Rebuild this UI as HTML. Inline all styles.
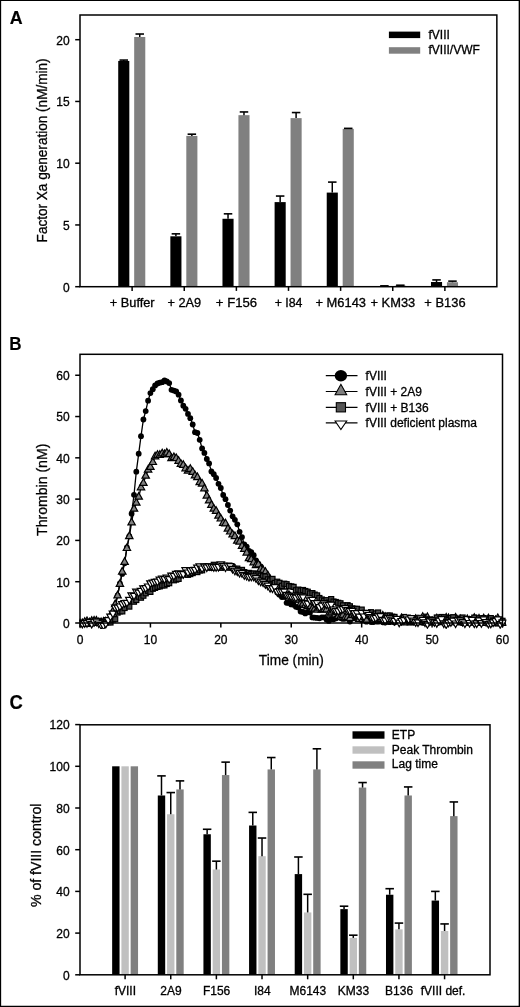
<!DOCTYPE html>
<html><head><meta charset="utf-8"><title>Figure</title>
<style>
html,body{margin:0;padding:0;background:#fff;}
body{width:520px;height:1007px;overflow:hidden;position:relative;font-family:"Liberation Sans",sans-serif;}
svg{display:block;position:absolute;left:0;top:0;will-change:transform;}
#chart{filter:grayscale(1) blur(0.35px);}
svg text{font-family:"Liberation Sans",sans-serif;fill:#000;stroke:#000;stroke-width:0.3px;}
</style></head><body>
<svg id="chart" width="520" height="1007" viewBox="0 0 520 1007">
<rect x="-5" y="-5" width="530" height="1017" fill="#fff"/>
<text x="9.8" y="24.1" font-size="18.8" text-anchor="start" font-weight="bold" textLength="12.9" lengthAdjust="spacingAndGlyphs" style="stroke-width:0.15px">A</text>
<rect x="118.22" y="60.94" width="11.10" height="225.76" fill="#000"/>
<rect x="134.18" y="36.98" width="11.10" height="249.72" fill="#808080"/>
<line x1="123.77" y1="60.94" x2="123.77" y2="60.08" stroke="#000" stroke-width="1.5"/>
<line x1="119.52" y1="60.08" x2="128.02" y2="60.08" stroke="#000" stroke-width="1.6"/>
<line x1="139.73" y1="36.98" x2="139.73" y2="34.02" stroke="#000" stroke-width="1.5"/>
<line x1="135.48" y1="34.02" x2="143.98" y2="34.02" stroke="#000" stroke-width="1.6"/>
<rect x="170.35" y="236.31" width="11.10" height="50.39" fill="#000"/>
<rect x="186.30" y="135.91" width="11.10" height="150.79" fill="#808080"/>
<line x1="175.90" y1="236.31" x2="175.90" y2="233.84" stroke="#000" stroke-width="1.5"/>
<line x1="171.65" y1="233.84" x2="180.15" y2="233.84" stroke="#000" stroke-width="1.6"/>
<line x1="191.85" y1="135.91" x2="191.85" y2="134.18" stroke="#000" stroke-width="1.5"/>
<line x1="187.60" y1="134.18" x2="196.10" y2="134.18" stroke="#000" stroke-width="1.6"/>
<rect x="222.47" y="218.77" width="11.10" height="67.93" fill="#000"/>
<rect x="238.43" y="115.16" width="11.10" height="171.54" fill="#808080"/>
<line x1="228.03" y1="218.77" x2="228.03" y2="213.83" stroke="#000" stroke-width="1.5"/>
<line x1="223.78" y1="213.83" x2="232.28" y2="213.83" stroke="#000" stroke-width="1.6"/>
<line x1="243.98" y1="115.16" x2="243.98" y2="111.95" stroke="#000" stroke-width="1.5"/>
<line x1="239.73" y1="111.95" x2="248.23" y2="111.95" stroke="#000" stroke-width="1.6"/>
<rect x="274.60" y="202.10" width="11.10" height="84.60" fill="#000"/>
<rect x="290.55" y="118.12" width="11.10" height="168.58" fill="#808080"/>
<line x1="280.15" y1="202.10" x2="280.15" y2="196.05" stroke="#000" stroke-width="1.5"/>
<line x1="275.90" y1="196.05" x2="284.40" y2="196.05" stroke="#000" stroke-width="1.6"/>
<line x1="296.10" y1="118.12" x2="296.10" y2="112.56" stroke="#000" stroke-width="1.5"/>
<line x1="291.85" y1="112.56" x2="300.35" y2="112.56" stroke="#000" stroke-width="1.6"/>
<rect x="326.73" y="192.59" width="11.10" height="94.11" fill="#000"/>
<rect x="342.68" y="128.87" width="11.10" height="157.83" fill="#808080"/>
<line x1="332.28" y1="192.59" x2="332.28" y2="182.10" stroke="#000" stroke-width="1.5"/>
<line x1="328.03" y1="182.10" x2="336.53" y2="182.10" stroke="#000" stroke-width="1.6"/>
<line x1="348.23" y1="128.87" x2="348.23" y2="128.37" stroke="#000" stroke-width="1.5"/>
<line x1="343.98" y1="128.37" x2="352.48" y2="128.37" stroke="#000" stroke-width="1.6"/>
<rect x="378.85" y="286.21" width="11.10" height="0.49" fill="#000"/>
<rect x="394.80" y="285.71" width="11.10" height="0.99" fill="#808080"/>
<line x1="384.40" y1="286.21" x2="384.40" y2="285.84" stroke="#000" stroke-width="1.5"/>
<line x1="380.15" y1="285.84" x2="388.65" y2="285.84" stroke="#000" stroke-width="1.6"/>
<line x1="400.35" y1="285.71" x2="400.35" y2="285.22" stroke="#000" stroke-width="1.5"/>
<line x1="396.10" y1="285.22" x2="404.60" y2="285.22" stroke="#000" stroke-width="1.6"/>
<rect x="430.98" y="282.01" width="11.10" height="4.69" fill="#000"/>
<rect x="446.93" y="282.25" width="11.10" height="4.45" fill="#808080"/>
<line x1="436.53" y1="282.01" x2="436.53" y2="279.91" stroke="#000" stroke-width="1.5"/>
<line x1="432.28" y1="279.91" x2="440.78" y2="279.91" stroke="#000" stroke-width="1.6"/>
<line x1="452.48" y1="282.25" x2="452.48" y2="281.14" stroke="#000" stroke-width="1.5"/>
<line x1="448.23" y1="281.14" x2="456.73" y2="281.14" stroke="#000" stroke-width="1.6"/>
<rect x="80.0" y="15.0" width="416.85" height="271.7" fill="none" stroke="#000" stroke-width="1.5"/>
<line x1="75.20" y1="286.70" x2="80.00" y2="286.70" stroke="#000" stroke-width="1.5"/>
<text x="69.6" y="291.5" font-size="12" text-anchor="end" >0</text>
<line x1="75.20" y1="224.95" x2="80.00" y2="224.95" stroke="#000" stroke-width="1.5"/>
<text x="69.6" y="229.75" font-size="12" text-anchor="end" >5</text>
<line x1="75.20" y1="163.20" x2="80.00" y2="163.20" stroke="#000" stroke-width="1.5"/>
<text x="69.6" y="168.0" font-size="12" text-anchor="end" >10</text>
<line x1="75.20" y1="101.45" x2="80.00" y2="101.45" stroke="#000" stroke-width="1.5"/>
<text x="69.6" y="106.24999999999999" font-size="12" text-anchor="end" >15</text>
<line x1="75.20" y1="39.70" x2="80.00" y2="39.70" stroke="#000" stroke-width="1.5"/>
<text x="69.6" y="44.499999999999986" font-size="12" text-anchor="end" >20</text>
<line x1="132.12" y1="286.70" x2="132.12" y2="290.90" stroke="#000" stroke-width="1.5"/>
<line x1="184.25" y1="286.70" x2="184.25" y2="290.90" stroke="#000" stroke-width="1.5"/>
<line x1="236.38" y1="286.70" x2="236.38" y2="290.90" stroke="#000" stroke-width="1.5"/>
<line x1="288.50" y1="286.70" x2="288.50" y2="290.90" stroke="#000" stroke-width="1.5"/>
<line x1="340.62" y1="286.70" x2="340.62" y2="290.90" stroke="#000" stroke-width="1.5"/>
<line x1="392.75" y1="286.70" x2="392.75" y2="290.90" stroke="#000" stroke-width="1.5"/>
<line x1="444.88" y1="286.70" x2="444.88" y2="290.90" stroke="#000" stroke-width="1.5"/>
<text x="132.22" y="306.6" font-size="12" text-anchor="middle" textLength="44.8" lengthAdjust="spacingAndGlyphs" >+ Buffer</text>
<text x="184.35" y="306.6" font-size="12" text-anchor="middle" textLength="33.7" lengthAdjust="spacingAndGlyphs" >+ 2A9</text>
<text x="236.47" y="306.6" font-size="12" text-anchor="middle" textLength="41.2" lengthAdjust="spacingAndGlyphs" >+ F156</text>
<text x="288.6" y="306.6" font-size="12" text-anchor="middle" textLength="27.8" lengthAdjust="spacingAndGlyphs" >+ I84</text>
<text x="340.73" y="306.6" font-size="12" text-anchor="middle" textLength="50.6" lengthAdjust="spacingAndGlyphs" >+ M6143</text>
<text x="392.85" y="306.6" font-size="12" text-anchor="middle" textLength="44.7" lengthAdjust="spacingAndGlyphs" >+ KM33</text>
<text x="444.98" y="306.6" font-size="12" text-anchor="middle" textLength="41.2" lengthAdjust="spacingAndGlyphs" >+ B136</text>
<text x="47.2" y="150.4" font-size="15.5" text-anchor="middle" textLength="184" lengthAdjust="spacingAndGlyphs" transform="rotate(-90 47.2 150.4)" >Factor Xa generation (nM/min)</text>
<rect x="388.90" y="31.60" width="31.30" height="6.50" fill="#000"/>
<rect x="388.90" y="47.20" width="31.30" height="6.50" fill="#808080"/>
<text x="428.5" y="38.6" font-size="12" text-anchor="start" >fVIII</text>
<text x="428.5" y="53.8" font-size="12" text-anchor="start" >fVIII/VWF</text>
<text x="9.3" y="350.2" font-size="18.2" text-anchor="start" font-weight="bold" textLength="12.3" lengthAdjust="spacingAndGlyphs" style="stroke-width:0.1px">B</text>
<clipPath id="cb"><rect x="79.5" y="354.3" width="427.0" height="274.7"/></clipPath><g clip-path="url(#cb)">
<polyline fill="none" stroke="#000" stroke-width="1.3" points="80.0,623.4 82.3,623.6 84.7,622.4 87.0,623.5 89.4,622.4 91.7,622.6 94.1,623.2 96.4,622.0 98.8,622.9 101.1,621.9 103.5,622.4 105.8,622.1 108.2,621.3 110.5,617.7 112.9,618.0 115.2,607.9 117.6,595.3 119.9,583.5 122.2,573.9 124.6,563.3 126.9,547.3 129.3,536.1 131.6,513.7 134.0,494.8 136.3,471.7 138.7,453.7 141.0,436.2 143.4,419.5 145.7,411.1 148.1,400.7 150.4,393.1 152.8,389.2 155.1,385.4 157.5,383.5 159.8,382.7 162.2,382.2 164.5,380.3 166.8,381.4 169.2,383.1 171.5,389.8 173.9,390.6 176.2,391.4 178.6,394.7 180.9,400.5 183.3,405.7 185.6,408.8 188.0,413.9 190.3,418.2 192.7,424.5 195.0,432.2 197.4,433.0 199.7,439.8 202.1,448.4 204.4,452.9 206.8,459.0 209.1,463.4 211.4,471.4 213.8,474.2 216.1,478.0 218.5,483.8 220.8,488.0 223.2,495.0 225.5,499.2 227.9,505.0 230.2,510.6 232.6,516.3 234.9,519.8 237.3,524.3 239.6,531.8 242.0,537.1 244.3,544.4 246.7,546.6 249.0,551.0 251.3,552.2 253.7,555.2 256.0,560.5 258.4,563.7 260.7,566.3 263.1,572.0 265.4,574.4 267.8,579.2 270.1,583.2 272.5,587.1 274.8,587.6 277.2,592.4 279.5,594.8 281.9,597.1 284.2,596.9 286.6,602.8 288.9,602.9 291.2,604.4 293.6,604.7 295.9,606.8 298.3,607.6 300.6,611.6 303.0,612.0 305.3,613.4 307.7,611.8 310.0,612.5 312.4,617.4 314.7,617.7 317.1,617.9 319.4,618.3 321.8,617.4 324.1,617.3 326.5,619.4 328.8,620.9 331.2,619.0 333.5,619.3 335.8,618.4 338.2,616.6 340.5,618.0 342.9,618.9 345.2,618.5 347.6,618.3 349.9,621.5 352.3,617.4 354.6,618.1 357.0,617.7 359.3,618.1 361.7,620.2 364.0,620.2 366.4,621.7 368.7,619.2 371.1,622.0 373.4,622.0 375.8,621.4 378.1,621.7 380.4,620.8 382.8,622.3 385.1,622.6 387.5,621.9 389.8,622.2 392.2,620.9 394.5,622.6 396.9,618.5 399.2,619.8 401.6,622.1 403.9,621.7 406.3,621.2 408.6,621.2 411.0,622.4 413.3,618.9 415.7,618.2 418.0,620.9 420.3,620.8 422.7,622.8 425.0,622.8 427.4,621.6 429.7,622.1 432.1,619.3 434.4,622.6 436.8,623.3 439.1,618.7 441.5,620.8 443.8,622.7 446.2,620.7 448.5,623.3 450.9,620.8 453.2,618.6 455.6,619.1 457.9,620.0 460.2,622.1 462.6,621.6 464.9,622.6 467.3,619.6 469.6,620.8 472.0,619.6 474.3,621.8 476.7,622.3 479.0,619.4 481.4,618.5 483.7,619.2 486.1,619.4 488.4,619.4 490.8,619.7 493.1,622.3 495.5,620.8 497.8,621.7 500.2,623.3 502.5,623.3"/>
<g fill="#000"><circle cx="80.0" cy="623.4" r="2.9"/><circle cx="82.3" cy="623.6" r="2.9"/><circle cx="84.7" cy="622.4" r="2.9"/><circle cx="87.0" cy="623.5" r="2.9"/><circle cx="89.4" cy="622.4" r="2.9"/><circle cx="91.7" cy="622.6" r="2.9"/><circle cx="94.1" cy="623.2" r="2.9"/><circle cx="96.4" cy="622.0" r="2.9"/><circle cx="98.8" cy="622.9" r="2.9"/><circle cx="101.1" cy="621.9" r="2.9"/><circle cx="103.5" cy="622.4" r="2.9"/><circle cx="105.8" cy="622.1" r="2.9"/><circle cx="108.2" cy="621.3" r="2.9"/><circle cx="110.5" cy="617.7" r="2.9"/><circle cx="112.9" cy="618.0" r="2.9"/><circle cx="115.2" cy="607.9" r="2.9"/><circle cx="117.6" cy="595.3" r="2.9"/><circle cx="119.9" cy="583.5" r="2.9"/><circle cx="122.2" cy="573.9" r="2.9"/><circle cx="124.6" cy="563.3" r="2.9"/><circle cx="126.9" cy="547.3" r="2.9"/><circle cx="129.3" cy="536.1" r="2.9"/><circle cx="131.6" cy="513.7" r="2.9"/><circle cx="134.0" cy="494.8" r="2.9"/><circle cx="136.3" cy="471.7" r="2.9"/><circle cx="138.7" cy="453.7" r="2.9"/><circle cx="141.0" cy="436.2" r="2.9"/><circle cx="143.4" cy="419.5" r="2.9"/><circle cx="145.7" cy="411.1" r="2.9"/><circle cx="148.1" cy="400.7" r="2.9"/><circle cx="150.4" cy="393.1" r="2.9"/><circle cx="152.8" cy="389.2" r="2.9"/><circle cx="155.1" cy="385.4" r="2.9"/><circle cx="157.5" cy="383.5" r="2.9"/><circle cx="159.8" cy="382.7" r="2.9"/><circle cx="162.2" cy="382.2" r="2.9"/><circle cx="164.5" cy="380.3" r="2.9"/><circle cx="166.8" cy="381.4" r="2.9"/><circle cx="169.2" cy="383.1" r="2.9"/><circle cx="171.5" cy="389.8" r="2.9"/><circle cx="173.9" cy="390.6" r="2.9"/><circle cx="176.2" cy="391.4" r="2.9"/><circle cx="178.6" cy="394.7" r="2.9"/><circle cx="180.9" cy="400.5" r="2.9"/><circle cx="183.3" cy="405.7" r="2.9"/><circle cx="185.6" cy="408.8" r="2.9"/><circle cx="188.0" cy="413.9" r="2.9"/><circle cx="190.3" cy="418.2" r="2.9"/><circle cx="192.7" cy="424.5" r="2.9"/><circle cx="195.0" cy="432.2" r="2.9"/><circle cx="197.4" cy="433.0" r="2.9"/><circle cx="199.7" cy="439.8" r="2.9"/><circle cx="202.1" cy="448.4" r="2.9"/><circle cx="204.4" cy="452.9" r="2.9"/><circle cx="206.8" cy="459.0" r="2.9"/><circle cx="209.1" cy="463.4" r="2.9"/><circle cx="211.4" cy="471.4" r="2.9"/><circle cx="213.8" cy="474.2" r="2.9"/><circle cx="216.1" cy="478.0" r="2.9"/><circle cx="218.5" cy="483.8" r="2.9"/><circle cx="220.8" cy="488.0" r="2.9"/><circle cx="223.2" cy="495.0" r="2.9"/><circle cx="225.5" cy="499.2" r="2.9"/><circle cx="227.9" cy="505.0" r="2.9"/><circle cx="230.2" cy="510.6" r="2.9"/><circle cx="232.6" cy="516.3" r="2.9"/><circle cx="234.9" cy="519.8" r="2.9"/><circle cx="237.3" cy="524.3" r="2.9"/><circle cx="239.6" cy="531.8" r="2.9"/><circle cx="242.0" cy="537.1" r="2.9"/><circle cx="244.3" cy="544.4" r="2.9"/><circle cx="246.7" cy="546.6" r="2.9"/><circle cx="249.0" cy="551.0" r="2.9"/><circle cx="251.3" cy="552.2" r="2.9"/><circle cx="253.7" cy="555.2" r="2.9"/><circle cx="256.0" cy="560.5" r="2.9"/><circle cx="258.4" cy="563.7" r="2.9"/><circle cx="260.7" cy="566.3" r="2.9"/><circle cx="263.1" cy="572.0" r="2.9"/><circle cx="265.4" cy="574.4" r="2.9"/><circle cx="267.8" cy="579.2" r="2.9"/><circle cx="270.1" cy="583.2" r="2.9"/><circle cx="272.5" cy="587.1" r="2.9"/><circle cx="274.8" cy="587.6" r="2.9"/><circle cx="277.2" cy="592.4" r="2.9"/><circle cx="279.5" cy="594.8" r="2.9"/><circle cx="281.9" cy="597.1" r="2.9"/><circle cx="284.2" cy="596.9" r="2.9"/><circle cx="286.6" cy="602.8" r="2.9"/><circle cx="288.9" cy="602.9" r="2.9"/><circle cx="291.2" cy="604.4" r="2.9"/><circle cx="293.6" cy="604.7" r="2.9"/><circle cx="295.9" cy="606.8" r="2.9"/><circle cx="298.3" cy="607.6" r="2.9"/><circle cx="300.6" cy="611.6" r="2.9"/><circle cx="303.0" cy="612.0" r="2.9"/><circle cx="305.3" cy="613.4" r="2.9"/><circle cx="307.7" cy="611.8" r="2.9"/><circle cx="310.0" cy="612.5" r="2.9"/><circle cx="312.4" cy="617.4" r="2.9"/><circle cx="314.7" cy="617.7" r="2.9"/><circle cx="317.1" cy="617.9" r="2.9"/><circle cx="319.4" cy="618.3" r="2.9"/><circle cx="321.8" cy="617.4" r="2.9"/><circle cx="324.1" cy="617.3" r="2.9"/><circle cx="326.5" cy="619.4" r="2.9"/><circle cx="328.8" cy="620.9" r="2.9"/><circle cx="331.2" cy="619.0" r="2.9"/><circle cx="333.5" cy="619.3" r="2.9"/><circle cx="335.8" cy="618.4" r="2.9"/><circle cx="338.2" cy="616.6" r="2.9"/><circle cx="340.5" cy="618.0" r="2.9"/><circle cx="342.9" cy="618.9" r="2.9"/><circle cx="345.2" cy="618.5" r="2.9"/><circle cx="347.6" cy="618.3" r="2.9"/><circle cx="349.9" cy="621.5" r="2.9"/><circle cx="352.3" cy="617.4" r="2.9"/><circle cx="354.6" cy="618.1" r="2.9"/><circle cx="357.0" cy="617.7" r="2.9"/><circle cx="359.3" cy="618.1" r="2.9"/><circle cx="361.7" cy="620.2" r="2.9"/><circle cx="364.0" cy="620.2" r="2.9"/><circle cx="366.4" cy="621.7" r="2.9"/><circle cx="368.7" cy="619.2" r="2.9"/><circle cx="371.1" cy="622.0" r="2.9"/><circle cx="373.4" cy="622.0" r="2.9"/><circle cx="375.8" cy="621.4" r="2.9"/><circle cx="378.1" cy="621.7" r="2.9"/><circle cx="380.4" cy="620.8" r="2.9"/><circle cx="382.8" cy="622.3" r="2.9"/><circle cx="385.1" cy="622.6" r="2.9"/><circle cx="387.5" cy="621.9" r="2.9"/><circle cx="389.8" cy="622.2" r="2.9"/><circle cx="392.2" cy="620.9" r="2.9"/><circle cx="394.5" cy="622.6" r="2.9"/><circle cx="396.9" cy="618.5" r="2.9"/><circle cx="399.2" cy="619.8" r="2.9"/><circle cx="401.6" cy="622.1" r="2.9"/><circle cx="403.9" cy="621.7" r="2.9"/><circle cx="406.3" cy="621.2" r="2.9"/><circle cx="408.6" cy="621.2" r="2.9"/><circle cx="411.0" cy="622.4" r="2.9"/><circle cx="413.3" cy="618.9" r="2.9"/><circle cx="415.7" cy="618.2" r="2.9"/><circle cx="418.0" cy="620.9" r="2.9"/><circle cx="420.3" cy="620.8" r="2.9"/><circle cx="422.7" cy="622.8" r="2.9"/><circle cx="425.0" cy="622.8" r="2.9"/><circle cx="427.4" cy="621.6" r="2.9"/><circle cx="429.7" cy="622.1" r="2.9"/><circle cx="432.1" cy="619.3" r="2.9"/><circle cx="434.4" cy="622.6" r="2.9"/><circle cx="436.8" cy="623.3" r="2.9"/><circle cx="439.1" cy="618.7" r="2.9"/><circle cx="441.5" cy="620.8" r="2.9"/><circle cx="443.8" cy="622.7" r="2.9"/><circle cx="446.2" cy="620.7" r="2.9"/><circle cx="448.5" cy="623.3" r="2.9"/><circle cx="450.9" cy="620.8" r="2.9"/><circle cx="453.2" cy="618.6" r="2.9"/><circle cx="455.6" cy="619.1" r="2.9"/><circle cx="457.9" cy="620.0" r="2.9"/><circle cx="460.2" cy="622.1" r="2.9"/><circle cx="462.6" cy="621.6" r="2.9"/><circle cx="464.9" cy="622.6" r="2.9"/><circle cx="467.3" cy="619.6" r="2.9"/><circle cx="469.6" cy="620.8" r="2.9"/><circle cx="472.0" cy="619.6" r="2.9"/><circle cx="474.3" cy="621.8" r="2.9"/><circle cx="476.7" cy="622.3" r="2.9"/><circle cx="479.0" cy="619.4" r="2.9"/><circle cx="481.4" cy="618.5" r="2.9"/><circle cx="483.7" cy="619.2" r="2.9"/><circle cx="486.1" cy="619.4" r="2.9"/><circle cx="488.4" cy="619.4" r="2.9"/><circle cx="490.8" cy="619.7" r="2.9"/><circle cx="493.1" cy="622.3" r="2.9"/><circle cx="495.5" cy="620.8" r="2.9"/><circle cx="497.8" cy="621.7" r="2.9"/><circle cx="500.2" cy="623.3" r="2.9"/><circle cx="502.5" cy="623.3" r="2.9"/></g>
<polyline fill="none" stroke="#000" stroke-width="1.3" points="80.0,623.6 82.3,623.5 84.7,622.2 87.0,621.4 89.4,622.6 91.7,621.2 94.1,620.9 96.4,620.9 98.8,622.3 101.1,622.5 103.5,622.0 105.8,621.6 108.2,622.0 110.5,619.1 112.9,611.5 115.2,604.5 117.6,595.7 119.9,584.2 122.2,571.9 124.6,562.2 126.9,548.3 129.3,536.4 131.6,522.7 134.0,509.0 136.3,502.9 138.7,497.0 141.0,487.6 143.4,483.2 145.7,476.0 148.1,469.9 150.4,467.2 152.8,462.3 155.1,456.6 157.5,455.1 159.8,455.1 162.2,453.6 164.5,454.5 166.8,452.9 169.2,454.5 171.5,458.5 173.9,457.4 176.2,458.3 178.6,461.1 180.9,464.1 183.3,465.2 185.6,468.6 188.0,470.9 190.3,469.1 192.7,472.1 195.0,475.7 197.4,477.4 199.7,482.4 202.1,483.9 204.4,488.6 206.8,495.9 209.1,500.7 211.4,505.2 213.8,508.9 216.1,511.1 218.5,515.9 220.8,518.8 223.2,523.2 225.5,523.6 227.9,528.9 230.2,531.8 232.6,534.7 234.9,536.4 237.3,541.0 239.6,541.9 242.0,546.2 244.3,549.2 246.7,552.9 249.0,558.5 251.3,559.5 253.7,562.6 256.0,565.4 258.4,564.6 260.7,569.1 263.1,570.3 265.4,572.2 267.8,575.7 270.1,579.5 272.5,581.7 274.8,584.4 277.2,586.4 279.5,590.7 281.9,590.8 284.2,593.7 286.6,595.3 288.9,595.2 291.2,597.9 293.6,599.4 295.9,599.8 298.3,600.0 300.6,603.7 303.0,603.8 305.3,605.4 307.7,606.4 310.0,606.4 312.4,608.8 314.7,609.0 317.1,609.9 319.4,607.9 321.8,609.9 324.1,609.5 326.5,609.7 328.8,614.0 331.2,612.7 333.5,610.8 335.8,611.8 338.2,616.2 340.5,616.7 342.9,615.2 345.2,617.7 347.6,617.1 349.9,618.4 352.3,615.3 354.6,615.0 357.0,614.6 359.3,619.3 361.7,616.4 364.0,616.8 366.4,620.0 368.7,615.8 371.1,615.5 373.4,619.9 375.8,615.8 378.1,619.2 380.4,618.8 382.8,616.0 385.1,617.1 387.5,621.1 389.8,619.7 392.2,619.3 394.5,620.5 396.9,621.5 399.2,620.8 401.6,618.5 403.9,622.6 406.3,619.5 408.6,620.2 411.0,622.6 413.3,620.9 415.7,619.2 418.0,619.9 420.3,622.5 422.7,617.2 425.0,618.4 427.4,617.3 429.7,622.4 432.1,621.5 434.4,622.8 436.8,618.6 439.1,621.5 441.5,622.4 443.8,620.7 446.2,617.9 448.5,618.5 450.9,621.7 453.2,622.4 455.6,618.0 457.9,620.0 460.2,619.3 462.6,622.8 464.9,623.1 467.3,619.4 469.6,621.0 472.0,623.0 474.3,618.1 476.7,619.9 479.0,618.9 481.4,623.1 483.7,618.7 486.1,623.2 488.4,618.7 490.8,621.1 493.1,621.8 495.5,620.5 497.8,618.4 500.2,622.2 502.5,623.1"/>
<g fill="#808080" stroke="#000" stroke-width="1.2" stroke-linejoin="miter"><path d="M76.3 625.8L83.7 625.8L80.0 619.2Z"/><path d="M78.6 625.7L86.0 625.7L82.3 619.1Z"/><path d="M81.0 624.4L88.4 624.4L84.7 617.8Z"/><path d="M83.3 623.6L90.7 623.6L87.0 617.0Z"/><path d="M85.7 624.8L93.1 624.8L89.4 618.2Z"/><path d="M88.0 623.4L95.4 623.4L91.7 616.8Z"/><path d="M90.4 623.1L97.8 623.1L94.1 616.5Z"/><path d="M92.7 623.1L100.1 623.1L96.4 616.5Z"/><path d="M95.1 624.5L102.5 624.5L98.8 617.9Z"/><path d="M97.4 624.7L104.8 624.7L101.1 618.1Z"/><path d="M99.8 624.2L107.2 624.2L103.5 617.6Z"/><path d="M102.1 623.8L109.5 623.8L105.8 617.2Z"/><path d="M104.5 624.2L111.9 624.2L108.2 617.6Z"/><path d="M106.8 621.3L114.2 621.3L110.5 614.7Z"/><path d="M109.2 613.7L116.6 613.7L112.9 607.1Z"/><path d="M111.5 606.7L118.9 606.7L115.2 600.1Z"/><path d="M113.9 597.9L121.3 597.9L117.6 591.3Z"/><path d="M116.2 586.4L123.6 586.4L119.9 579.8Z"/><path d="M118.5 574.1L126.0 574.1L122.2 567.5Z"/><path d="M120.9 564.4L128.3 564.4L124.6 557.8Z"/><path d="M123.2 550.5L130.6 550.5L126.9 543.9Z"/><path d="M125.6 538.6L133.0 538.6L129.3 532.0Z"/><path d="M127.9 524.9L135.3 524.9L131.6 518.3Z"/><path d="M130.3 511.2L137.7 511.2L134.0 504.6Z"/><path d="M132.6 505.1L140.0 505.1L136.3 498.5Z"/><path d="M135.0 499.2L142.4 499.2L138.7 492.6Z"/><path d="M137.3 489.8L144.7 489.8L141.0 483.2Z"/><path d="M139.7 485.4L147.1 485.4L143.4 478.8Z"/><path d="M142.0 478.2L149.4 478.2L145.7 471.6Z"/><path d="M144.4 472.1L151.8 472.1L148.1 465.5Z"/><path d="M146.7 469.4L154.1 469.4L150.4 462.8Z"/><path d="M149.1 464.5L156.5 464.5L152.8 457.9Z"/><path d="M151.4 458.8L158.8 458.8L155.1 452.2Z"/><path d="M153.8 457.3L161.2 457.3L157.5 450.7Z"/><path d="M156.1 457.3L163.5 457.3L159.8 450.7Z"/><path d="M158.5 455.8L165.9 455.8L162.2 449.2Z"/><path d="M160.8 456.7L168.2 456.7L164.5 450.1Z"/><path d="M163.1 455.1L170.5 455.1L166.8 448.5Z"/><path d="M165.5 456.7L172.9 456.7L169.2 450.1Z"/><path d="M167.8 460.7L175.2 460.7L171.5 454.1Z"/><path d="M170.2 459.6L177.6 459.6L173.9 453.0Z"/><path d="M172.5 460.5L179.9 460.5L176.2 453.9Z"/><path d="M174.9 463.3L182.3 463.3L178.6 456.7Z"/><path d="M177.2 466.3L184.6 466.3L180.9 459.7Z"/><path d="M179.6 467.4L187.0 467.4L183.3 460.8Z"/><path d="M181.9 470.8L189.3 470.8L185.6 464.2Z"/><path d="M184.3 473.1L191.7 473.1L188.0 466.5Z"/><path d="M186.6 471.3L194.0 471.3L190.3 464.7Z"/><path d="M189.0 474.3L196.4 474.3L192.7 467.7Z"/><path d="M191.3 477.9L198.7 477.9L195.0 471.3Z"/><path d="M193.7 479.6L201.1 479.6L197.4 473.0Z"/><path d="M196.0 484.6L203.4 484.6L199.7 478.0Z"/><path d="M198.4 486.1L205.8 486.1L202.1 479.5Z"/><path d="M200.7 490.8L208.1 490.8L204.4 484.2Z"/><path d="M203.1 498.1L210.4 498.1L206.8 491.5Z"/><path d="M205.4 502.9L212.8 502.9L209.1 496.3Z"/><path d="M207.7 507.4L215.1 507.4L211.4 500.8Z"/><path d="M210.1 511.1L217.5 511.1L213.8 504.5Z"/><path d="M212.4 513.3L219.8 513.3L216.1 506.7Z"/><path d="M214.8 518.1L222.2 518.1L218.5 511.5Z"/><path d="M217.1 521.0L224.5 521.0L220.8 514.4Z"/><path d="M219.5 525.4L226.9 525.4L223.2 518.8Z"/><path d="M221.8 525.8L229.2 525.8L225.5 519.2Z"/><path d="M224.2 531.1L231.6 531.1L227.9 524.5Z"/><path d="M226.5 534.0L233.9 534.0L230.2 527.4Z"/><path d="M228.9 536.9L236.3 536.9L232.6 530.3Z"/><path d="M231.2 538.6L238.6 538.6L234.9 532.0Z"/><path d="M233.6 543.2L241.0 543.2L237.3 536.6Z"/><path d="M235.9 544.1L243.3 544.1L239.6 537.5Z"/><path d="M238.3 548.4L245.7 548.4L242.0 541.8Z"/><path d="M240.6 551.4L248.0 551.4L244.3 544.8Z"/><path d="M243.0 555.1L250.4 555.1L246.7 548.5Z"/><path d="M245.3 560.7L252.7 560.7L249.0 554.1Z"/><path d="M247.6 561.7L255.0 561.7L251.3 555.1Z"/><path d="M250.0 564.8L257.4 564.8L253.7 558.2Z"/><path d="M252.3 567.6L259.7 567.6L256.0 561.0Z"/><path d="M254.7 566.8L262.1 566.8L258.4 560.2Z"/><path d="M257.0 571.3L264.4 571.3L260.7 564.7Z"/><path d="M259.4 572.5L266.8 572.5L263.1 565.9Z"/><path d="M261.7 574.4L269.1 574.4L265.4 567.8Z"/><path d="M264.1 577.9L271.5 577.9L267.8 571.3Z"/><path d="M266.4 581.7L273.8 581.7L270.1 575.1Z"/><path d="M268.8 583.9L276.2 583.9L272.5 577.3Z"/><path d="M271.1 586.6L278.5 586.6L274.8 580.0Z"/><path d="M273.5 588.6L280.9 588.6L277.2 582.0Z"/><path d="M275.8 592.9L283.2 592.9L279.5 586.3Z"/><path d="M278.2 593.0L285.6 593.0L281.9 586.4Z"/><path d="M280.5 595.9L287.9 595.9L284.2 589.3Z"/><path d="M282.9 597.5L290.3 597.5L286.6 590.9Z"/><path d="M285.2 597.4L292.6 597.4L288.9 590.8Z"/><path d="M287.6 600.1L294.9 600.1L291.2 593.5Z"/><path d="M289.9 601.6L297.3 601.6L293.6 595.0Z"/><path d="M292.2 602.0L299.6 602.0L295.9 595.4Z"/><path d="M294.6 602.2L302.0 602.2L298.3 595.6Z"/><path d="M296.9 605.9L304.3 605.9L300.6 599.3Z"/><path d="M299.3 606.0L306.7 606.0L303.0 599.4Z"/><path d="M301.6 607.6L309.0 607.6L305.3 601.0Z"/><path d="M304.0 608.6L311.4 608.6L307.7 602.0Z"/><path d="M306.3 608.6L313.7 608.6L310.0 602.0Z"/><path d="M308.7 611.0L316.1 611.0L312.4 604.4Z"/><path d="M311.0 611.2L318.4 611.2L314.7 604.6Z"/><path d="M313.4 612.1L320.8 612.1L317.1 605.5Z"/><path d="M315.7 610.1L323.1 610.1L319.4 603.5Z"/><path d="M318.1 612.1L325.5 612.1L321.8 605.5Z"/><path d="M320.4 611.7L327.8 611.7L324.1 605.1Z"/><path d="M322.8 611.9L330.2 611.9L326.5 605.3Z"/><path d="M325.1 616.2L332.5 616.2L328.8 609.6Z"/><path d="M327.5 614.9L334.9 614.9L331.2 608.3Z"/><path d="M329.8 613.0L337.2 613.0L333.5 606.4Z"/><path d="M332.1 614.0L339.5 614.0L335.8 607.4Z"/><path d="M334.5 618.4L341.9 618.4L338.2 611.8Z"/><path d="M336.8 618.9L344.2 618.9L340.5 612.3Z"/><path d="M339.2 617.4L346.6 617.4L342.9 610.8Z"/><path d="M341.5 619.9L348.9 619.9L345.2 613.3Z"/><path d="M343.9 619.3L351.3 619.3L347.6 612.7Z"/><path d="M346.2 620.6L353.6 620.6L349.9 614.0Z"/><path d="M348.6 617.5L356.0 617.5L352.3 610.9Z"/><path d="M350.9 617.2L358.3 617.2L354.6 610.6Z"/><path d="M353.3 616.8L360.7 616.8L357.0 610.2Z"/><path d="M355.6 621.5L363.0 621.5L359.3 614.9Z"/><path d="M358.0 618.6L365.4 618.6L361.7 612.0Z"/><path d="M360.3 619.0L367.7 619.0L364.0 612.4Z"/><path d="M362.7 622.2L370.1 622.2L366.4 615.6Z"/><path d="M365.0 618.0L372.4 618.0L368.7 611.4Z"/><path d="M367.4 617.7L374.8 617.7L371.1 611.1Z"/><path d="M369.7 622.1L377.1 622.1L373.4 615.5Z"/><path d="M372.1 618.0L379.4 618.0L375.8 611.4Z"/><path d="M374.4 621.4L381.8 621.4L378.1 614.8Z"/><path d="M376.7 621.0L384.1 621.0L380.4 614.4Z"/><path d="M379.1 618.2L386.5 618.2L382.8 611.6Z"/><path d="M381.4 619.3L388.8 619.3L385.1 612.7Z"/><path d="M383.8 623.3L391.2 623.3L387.5 616.7Z"/><path d="M386.1 621.9L393.5 621.9L389.8 615.3Z"/><path d="M388.5 621.5L395.9 621.5L392.2 614.9Z"/><path d="M390.8 622.7L398.2 622.7L394.5 616.1Z"/><path d="M393.2 623.7L400.6 623.7L396.9 617.1Z"/><path d="M395.5 623.0L402.9 623.0L399.2 616.4Z"/><path d="M397.9 620.7L405.3 620.7L401.6 614.1Z"/><path d="M400.2 624.8L407.6 624.8L403.9 618.2Z"/><path d="M402.6 621.7L410.0 621.7L406.3 615.1Z"/><path d="M404.9 622.4L412.3 622.4L408.6 615.8Z"/><path d="M407.3 624.8L414.7 624.8L411.0 618.2Z"/><path d="M409.6 623.1L417.0 623.1L413.3 616.5Z"/><path d="M412.0 621.4L419.4 621.4L415.7 614.8Z"/><path d="M414.3 622.1L421.7 622.1L418.0 615.5Z"/><path d="M416.6 624.7L424.0 624.7L420.3 618.1Z"/><path d="M419.0 619.4L426.4 619.4L422.7 612.8Z"/><path d="M421.3 620.6L428.7 620.6L425.0 614.0Z"/><path d="M423.7 619.5L431.1 619.5L427.4 612.9Z"/><path d="M426.0 624.6L433.4 624.6L429.7 618.0Z"/><path d="M428.4 623.7L435.8 623.7L432.1 617.1Z"/><path d="M430.7 625.0L438.1 625.0L434.4 618.4Z"/><path d="M433.1 620.8L440.5 620.8L436.8 614.2Z"/><path d="M435.4 623.7L442.8 623.7L439.1 617.1Z"/><path d="M437.8 624.6L445.2 624.6L441.5 618.0Z"/><path d="M440.1 622.9L447.5 622.9L443.8 616.3Z"/><path d="M442.5 620.1L449.9 620.1L446.2 613.5Z"/><path d="M444.8 620.7L452.2 620.7L448.5 614.1Z"/><path d="M447.2 623.9L454.6 623.9L450.9 617.3Z"/><path d="M449.5 624.6L456.9 624.6L453.2 618.0Z"/><path d="M451.9 620.2L459.3 620.2L455.6 613.6Z"/><path d="M454.2 622.2L461.6 622.2L457.9 615.6Z"/><path d="M456.6 621.5L463.9 621.5L460.2 614.9Z"/><path d="M458.9 625.0L466.3 625.0L462.6 618.4Z"/><path d="M461.2 625.3L468.6 625.3L464.9 618.7Z"/><path d="M463.6 621.6L471.0 621.6L467.3 615.0Z"/><path d="M465.9 623.2L473.3 623.2L469.6 616.6Z"/><path d="M468.3 625.2L475.7 625.2L472.0 618.6Z"/><path d="M470.6 620.3L478.0 620.3L474.3 613.7Z"/><path d="M473.0 622.1L480.4 622.1L476.7 615.5Z"/><path d="M475.3 621.1L482.7 621.1L479.0 614.5Z"/><path d="M477.7 625.3L485.1 625.3L481.4 618.7Z"/><path d="M480.0 620.9L487.4 620.9L483.7 614.3Z"/><path d="M482.4 625.4L489.8 625.4L486.1 618.8Z"/><path d="M484.7 620.9L492.1 620.9L488.4 614.3Z"/><path d="M487.1 623.3L494.5 623.3L490.8 616.7Z"/><path d="M489.4 624.0L496.8 624.0L493.1 617.4Z"/><path d="M491.8 622.7L499.2 622.7L495.5 616.1Z"/><path d="M494.1 620.6L501.5 620.6L497.8 614.0Z"/><path d="M496.5 624.4L503.9 624.4L500.2 617.8Z"/><path d="M498.8 625.3L506.2 625.3L502.5 618.7Z"/></g>
<polyline fill="none" stroke="#000" stroke-width="1.3" points="80.0,622.9 82.3,623.6 84.7,623.8 87.0,623.6 89.4,623.8 91.7,623.3 94.1,622.9 96.4,622.9 98.8,621.6 101.1,622.7 103.5,621.9 105.8,622.5 108.2,622.2 110.5,622.5 112.9,619.5 115.2,619.2 117.6,612.6 119.9,611.3 122.2,611.4 124.6,608.0 126.9,603.6 129.3,606.6 131.6,600.8 134.0,601.7 136.3,600.0 138.7,596.7 141.0,597.7 143.4,595.7 145.7,593.3 148.1,590.8 150.4,591.9 152.8,588.8 155.1,587.9 157.5,586.9 159.8,586.4 162.2,585.4 164.5,585.4 166.8,584.0 169.2,583.2 171.5,579.6 173.9,580.3 176.2,579.6 178.6,578.9 180.9,575.2 183.3,574.3 185.6,574.2 188.0,574.8 190.3,574.1 192.7,573.1 195.0,571.7 197.4,572.1 199.7,570.4 202.1,570.3 204.4,567.0 206.8,566.3 209.1,567.2 211.4,567.8 213.8,564.8 216.1,567.1 218.5,566.6 220.8,567.8 223.2,566.1 225.5,566.0 227.9,566.2 230.2,567.7 232.6,567.0 234.9,569.2 237.3,568.6 239.6,570.2 242.0,569.9 244.3,572.1 246.7,573.1 249.0,572.9 251.3,573.9 253.7,573.4 256.0,574.4 258.4,574.4 260.7,575.6 263.1,576.2 265.4,576.5 267.8,579.3 270.1,580.4 272.5,578.9 274.8,582.9 277.2,581.7 279.5,582.8 281.9,585.8 284.2,583.7 286.6,584.2 288.9,586.0 291.2,586.4 293.6,586.9 295.9,590.2 298.3,589.6 300.6,590.5 303.0,590.0 305.3,591.0 307.7,591.7 310.0,593.4 312.4,593.1 314.7,594.6 317.1,595.4 319.4,598.0 321.8,599.5 324.1,600.7 326.5,600.2 328.8,602.5 331.2,599.1 333.5,601.5 335.8,602.0 338.2,602.8 340.5,603.3 342.9,605.3 345.2,608.9 347.6,605.2 349.9,606.3 352.3,608.4 354.6,608.9 357.0,608.8 359.3,612.9 361.7,609.6 364.0,613.0 366.4,614.7 368.7,614.2 371.1,612.2 373.4,615.8 375.8,613.4 378.1,612.5 380.4,615.7 382.8,616.7 385.1,616.4 387.5,615.6 389.8,615.5 392.2,616.7 394.5,616.9 396.9,620.5 399.2,620.2 401.6,619.7 403.9,617.0 406.3,619.6 408.6,618.2 411.0,621.5 413.3,621.4 415.7,620.3 418.0,618.0 420.3,618.0 422.7,618.2 425.0,620.6 427.4,619.4 429.7,619.8 432.1,619.9 434.4,621.9 436.8,617.5 439.1,621.5 441.5,617.0 443.8,617.3 446.2,622.7 448.5,620.1 450.9,618.1 453.2,617.2 455.6,620.3 457.9,621.3 460.2,621.7 462.6,617.5 464.9,621.8 467.3,619.6 469.6,622.2 472.0,620.0 474.3,617.6 476.7,622.3 479.0,618.4 481.4,620.2 483.7,618.1 486.1,619.2 488.4,621.9 490.8,618.1 493.1,620.5 495.5,623.2 497.8,623.3 500.2,620.5 502.5,620.8"/>
<g fill="#4a4a4a" stroke="#000" stroke-width="1.2"><rect x="77.5" y="620.4" width="5.0" height="5.0"/><rect x="79.8" y="621.1" width="5.0" height="5.0"/><rect x="82.2" y="621.3" width="5.0" height="5.0"/><rect x="84.5" y="621.1" width="5.0" height="5.0"/><rect x="86.9" y="621.3" width="5.0" height="5.0"/><rect x="89.2" y="620.8" width="5.0" height="5.0"/><rect x="91.6" y="620.4" width="5.0" height="5.0"/><rect x="93.9" y="620.4" width="5.0" height="5.0"/><rect x="96.3" y="619.1" width="5.0" height="5.0"/><rect x="98.6" y="620.2" width="5.0" height="5.0"/><rect x="101.0" y="619.4" width="5.0" height="5.0"/><rect x="103.3" y="620.0" width="5.0" height="5.0"/><rect x="105.7" y="619.7" width="5.0" height="5.0"/><rect x="108.0" y="620.0" width="5.0" height="5.0"/><rect x="110.4" y="617.0" width="5.0" height="5.0"/><rect x="112.7" y="616.7" width="5.0" height="5.0"/><rect x="115.1" y="610.1" width="5.0" height="5.0"/><rect x="117.4" y="608.8" width="5.0" height="5.0"/><rect x="119.8" y="608.9" width="5.0" height="5.0"/><rect x="122.1" y="605.5" width="5.0" height="5.0"/><rect x="124.4" y="601.1" width="5.0" height="5.0"/><rect x="126.8" y="604.1" width="5.0" height="5.0"/><rect x="129.1" y="598.3" width="5.0" height="5.0"/><rect x="131.5" y="599.2" width="5.0" height="5.0"/><rect x="133.8" y="597.5" width="5.0" height="5.0"/><rect x="136.2" y="594.2" width="5.0" height="5.0"/><rect x="138.5" y="595.2" width="5.0" height="5.0"/><rect x="140.9" y="593.2" width="5.0" height="5.0"/><rect x="143.2" y="590.8" width="5.0" height="5.0"/><rect x="145.6" y="588.3" width="5.0" height="5.0"/><rect x="147.9" y="589.4" width="5.0" height="5.0"/><rect x="150.3" y="586.3" width="5.0" height="5.0"/><rect x="152.6" y="585.4" width="5.0" height="5.0"/><rect x="155.0" y="584.4" width="5.0" height="5.0"/><rect x="157.3" y="583.9" width="5.0" height="5.0"/><rect x="159.7" y="582.9" width="5.0" height="5.0"/><rect x="162.0" y="582.9" width="5.0" height="5.0"/><rect x="164.3" y="581.5" width="5.0" height="5.0"/><rect x="166.7" y="580.7" width="5.0" height="5.0"/><rect x="169.0" y="577.1" width="5.0" height="5.0"/><rect x="171.4" y="577.8" width="5.0" height="5.0"/><rect x="173.7" y="577.1" width="5.0" height="5.0"/><rect x="176.1" y="576.4" width="5.0" height="5.0"/><rect x="178.4" y="572.7" width="5.0" height="5.0"/><rect x="180.8" y="571.8" width="5.0" height="5.0"/><rect x="183.1" y="571.7" width="5.0" height="5.0"/><rect x="185.5" y="572.3" width="5.0" height="5.0"/><rect x="187.8" y="571.6" width="5.0" height="5.0"/><rect x="190.2" y="570.6" width="5.0" height="5.0"/><rect x="192.5" y="569.2" width="5.0" height="5.0"/><rect x="194.9" y="569.6" width="5.0" height="5.0"/><rect x="197.2" y="567.9" width="5.0" height="5.0"/><rect x="199.6" y="567.8" width="5.0" height="5.0"/><rect x="201.9" y="564.5" width="5.0" height="5.0"/><rect x="204.2" y="563.8" width="5.0" height="5.0"/><rect x="206.6" y="564.7" width="5.0" height="5.0"/><rect x="208.9" y="565.3" width="5.0" height="5.0"/><rect x="211.3" y="562.3" width="5.0" height="5.0"/><rect x="213.6" y="564.6" width="5.0" height="5.0"/><rect x="216.0" y="564.1" width="5.0" height="5.0"/><rect x="218.3" y="565.3" width="5.0" height="5.0"/><rect x="220.7" y="563.6" width="5.0" height="5.0"/><rect x="223.0" y="563.5" width="5.0" height="5.0"/><rect x="225.4" y="563.7" width="5.0" height="5.0"/><rect x="227.7" y="565.2" width="5.0" height="5.0"/><rect x="230.1" y="564.5" width="5.0" height="5.0"/><rect x="232.4" y="566.7" width="5.0" height="5.0"/><rect x="234.8" y="566.1" width="5.0" height="5.0"/><rect x="237.1" y="567.7" width="5.0" height="5.0"/><rect x="239.5" y="567.4" width="5.0" height="5.0"/><rect x="241.8" y="569.6" width="5.0" height="5.0"/><rect x="244.2" y="570.6" width="5.0" height="5.0"/><rect x="246.5" y="570.4" width="5.0" height="5.0"/><rect x="248.8" y="571.4" width="5.0" height="5.0"/><rect x="251.2" y="570.9" width="5.0" height="5.0"/><rect x="253.5" y="571.9" width="5.0" height="5.0"/><rect x="255.9" y="571.9" width="5.0" height="5.0"/><rect x="258.2" y="573.1" width="5.0" height="5.0"/><rect x="260.6" y="573.7" width="5.0" height="5.0"/><rect x="262.9" y="574.0" width="5.0" height="5.0"/><rect x="265.3" y="576.8" width="5.0" height="5.0"/><rect x="267.6" y="577.9" width="5.0" height="5.0"/><rect x="270.0" y="576.4" width="5.0" height="5.0"/><rect x="272.3" y="580.4" width="5.0" height="5.0"/><rect x="274.7" y="579.2" width="5.0" height="5.0"/><rect x="277.0" y="580.3" width="5.0" height="5.0"/><rect x="279.4" y="583.3" width="5.0" height="5.0"/><rect x="281.7" y="581.2" width="5.0" height="5.0"/><rect x="284.1" y="581.7" width="5.0" height="5.0"/><rect x="286.4" y="583.5" width="5.0" height="5.0"/><rect x="288.8" y="583.9" width="5.0" height="5.0"/><rect x="291.1" y="584.4" width="5.0" height="5.0"/><rect x="293.4" y="587.7" width="5.0" height="5.0"/><rect x="295.8" y="587.1" width="5.0" height="5.0"/><rect x="298.1" y="588.0" width="5.0" height="5.0"/><rect x="300.5" y="587.5" width="5.0" height="5.0"/><rect x="302.8" y="588.5" width="5.0" height="5.0"/><rect x="305.2" y="589.2" width="5.0" height="5.0"/><rect x="307.5" y="590.9" width="5.0" height="5.0"/><rect x="309.9" y="590.6" width="5.0" height="5.0"/><rect x="312.2" y="592.1" width="5.0" height="5.0"/><rect x="314.6" y="592.9" width="5.0" height="5.0"/><rect x="316.9" y="595.5" width="5.0" height="5.0"/><rect x="319.3" y="597.0" width="5.0" height="5.0"/><rect x="321.6" y="598.2" width="5.0" height="5.0"/><rect x="324.0" y="597.7" width="5.0" height="5.0"/><rect x="326.3" y="600.0" width="5.0" height="5.0"/><rect x="328.7" y="596.6" width="5.0" height="5.0"/><rect x="331.0" y="599.0" width="5.0" height="5.0"/><rect x="333.3" y="599.5" width="5.0" height="5.0"/><rect x="335.7" y="600.3" width="5.0" height="5.0"/><rect x="338.0" y="600.8" width="5.0" height="5.0"/><rect x="340.4" y="602.8" width="5.0" height="5.0"/><rect x="342.7" y="606.4" width="5.0" height="5.0"/><rect x="345.1" y="602.7" width="5.0" height="5.0"/><rect x="347.4" y="603.8" width="5.0" height="5.0"/><rect x="349.8" y="605.9" width="5.0" height="5.0"/><rect x="352.1" y="606.4" width="5.0" height="5.0"/><rect x="354.5" y="606.3" width="5.0" height="5.0"/><rect x="356.8" y="610.4" width="5.0" height="5.0"/><rect x="359.2" y="607.1" width="5.0" height="5.0"/><rect x="361.5" y="610.5" width="5.0" height="5.0"/><rect x="363.9" y="612.2" width="5.0" height="5.0"/><rect x="366.2" y="611.7" width="5.0" height="5.0"/><rect x="368.6" y="609.7" width="5.0" height="5.0"/><rect x="370.9" y="613.3" width="5.0" height="5.0"/><rect x="373.2" y="610.9" width="5.0" height="5.0"/><rect x="375.6" y="610.0" width="5.0" height="5.0"/><rect x="377.9" y="613.2" width="5.0" height="5.0"/><rect x="380.3" y="614.2" width="5.0" height="5.0"/><rect x="382.6" y="613.9" width="5.0" height="5.0"/><rect x="385.0" y="613.1" width="5.0" height="5.0"/><rect x="387.3" y="613.0" width="5.0" height="5.0"/><rect x="389.7" y="614.2" width="5.0" height="5.0"/><rect x="392.0" y="614.4" width="5.0" height="5.0"/><rect x="394.4" y="618.0" width="5.0" height="5.0"/><rect x="396.7" y="617.7" width="5.0" height="5.0"/><rect x="399.1" y="617.2" width="5.0" height="5.0"/><rect x="401.4" y="614.5" width="5.0" height="5.0"/><rect x="403.8" y="617.1" width="5.0" height="5.0"/><rect x="406.1" y="615.7" width="5.0" height="5.0"/><rect x="408.5" y="619.0" width="5.0" height="5.0"/><rect x="410.8" y="618.9" width="5.0" height="5.0"/><rect x="413.2" y="617.8" width="5.0" height="5.0"/><rect x="415.5" y="615.5" width="5.0" height="5.0"/><rect x="417.8" y="615.5" width="5.0" height="5.0"/><rect x="420.2" y="615.7" width="5.0" height="5.0"/><rect x="422.5" y="618.1" width="5.0" height="5.0"/><rect x="424.9" y="616.9" width="5.0" height="5.0"/><rect x="427.2" y="617.3" width="5.0" height="5.0"/><rect x="429.6" y="617.4" width="5.0" height="5.0"/><rect x="431.9" y="619.4" width="5.0" height="5.0"/><rect x="434.3" y="615.0" width="5.0" height="5.0"/><rect x="436.6" y="619.0" width="5.0" height="5.0"/><rect x="439.0" y="614.5" width="5.0" height="5.0"/><rect x="441.3" y="614.8" width="5.0" height="5.0"/><rect x="443.7" y="620.2" width="5.0" height="5.0"/><rect x="446.0" y="617.6" width="5.0" height="5.0"/><rect x="448.4" y="615.6" width="5.0" height="5.0"/><rect x="450.7" y="614.7" width="5.0" height="5.0"/><rect x="453.1" y="617.8" width="5.0" height="5.0"/><rect x="455.4" y="618.8" width="5.0" height="5.0"/><rect x="457.8" y="619.2" width="5.0" height="5.0"/><rect x="460.1" y="615.0" width="5.0" height="5.0"/><rect x="462.4" y="619.3" width="5.0" height="5.0"/><rect x="464.8" y="617.1" width="5.0" height="5.0"/><rect x="467.1" y="619.7" width="5.0" height="5.0"/><rect x="469.5" y="617.5" width="5.0" height="5.0"/><rect x="471.8" y="615.1" width="5.0" height="5.0"/><rect x="474.2" y="619.8" width="5.0" height="5.0"/><rect x="476.5" y="615.9" width="5.0" height="5.0"/><rect x="478.9" y="617.7" width="5.0" height="5.0"/><rect x="481.2" y="615.6" width="5.0" height="5.0"/><rect x="483.6" y="616.7" width="5.0" height="5.0"/><rect x="485.9" y="619.4" width="5.0" height="5.0"/><rect x="488.3" y="615.6" width="5.0" height="5.0"/><rect x="490.6" y="618.0" width="5.0" height="5.0"/><rect x="493.0" y="620.7" width="5.0" height="5.0"/><rect x="495.3" y="620.8" width="5.0" height="5.0"/><rect x="497.7" y="618.0" width="5.0" height="5.0"/><rect x="500.0" y="618.3" width="5.0" height="5.0"/></g>
<polyline fill="none" stroke="#000" stroke-width="1.3" points="80.0,623.1 82.3,623.5 84.7,622.9 87.0,622.9 89.4,621.5 91.7,623.6 94.1,621.6 96.4,621.3 98.8,623.2 101.1,624.8 103.5,625.3 105.8,623.5 108.2,619.9 110.5,616.3 112.9,613.3 115.2,607.4 117.6,607.3 119.9,606.2 122.2,603.8 124.6,602.9 126.9,602.5 129.3,599.6 131.6,595.1 134.0,595.5 136.3,591.4 138.7,592.4 141.0,590.6 143.4,588.0 145.7,587.9 148.1,586.2 150.4,583.0 152.8,582.3 155.1,581.6 157.5,581.3 159.8,579.3 162.2,578.2 164.5,578.8 166.8,577.3 169.2,578.9 171.5,575.4 173.9,575.6 176.2,573.5 178.6,573.1 180.9,573.7 183.3,573.9 185.6,569.9 188.0,572.2 190.3,570.2 192.7,569.9 195.0,569.5 197.4,567.4 199.7,566.0 202.1,568.2 204.4,566.3 206.8,567.2 209.1,565.8 211.4,566.0 213.8,566.9 216.1,566.9 218.5,566.7 220.8,564.1 223.2,565.6 225.5,567.2 227.9,565.4 230.2,565.8 232.6,568.5 234.9,570.4 237.3,571.0 239.6,572.6 242.0,572.8 244.3,574.9 246.7,575.6 249.0,576.6 251.3,576.4 253.7,576.3 256.0,577.9 258.4,580.2 260.7,581.3 263.1,582.0 265.4,583.9 267.8,585.3 270.1,587.7 272.5,588.2 274.8,586.9 277.2,591.4 279.5,590.9 281.9,591.3 284.2,591.3 286.6,594.6 288.9,595.3 291.2,596.3 293.6,596.6 295.9,597.3 298.3,596.1 300.6,596.5 303.0,597.0 305.3,602.6 307.7,603.3 310.0,600.0 312.4,599.7 314.7,602.8 317.1,602.8 319.4,606.9 321.8,605.3 324.1,602.9 326.5,604.2 328.8,604.6 331.2,604.4 333.5,609.2 335.8,610.5 338.2,610.8 340.5,609.2 342.9,608.9 345.2,607.9 347.6,609.7 349.9,610.7 352.3,610.6 354.6,612.9 357.0,612.9 359.3,616.4 361.7,612.7 364.0,616.2 366.4,612.6 368.7,614.5 371.1,616.8 373.4,618.1 375.8,617.7 378.1,615.9 380.4,615.8 382.8,619.5 385.1,620.1 387.5,617.8 389.8,617.8 392.2,619.3 394.5,620.6 396.9,618.7 399.2,622.3 401.6,620.7 403.9,619.9 406.3,617.2 408.6,619.1 411.0,617.9 413.3,620.4 415.7,621.9 418.0,622.0 420.3,618.0 422.7,619.6 425.0,622.0 427.4,623.8 429.7,621.2 432.1,620.3 434.4,621.8 436.8,622.8 439.1,620.4 441.5,618.9 443.8,623.0 446.2,624.1 448.5,622.4 450.9,621.9 453.2,620.4 455.6,623.2 457.9,619.8 460.2,620.1 462.6,621.5 464.9,623.2 467.3,618.8 469.6,622.7 472.0,619.7 474.3,623.2 476.7,623.2 479.0,620.1 481.4,622.8 483.7,619.0 486.1,621.7 488.4,623.5 490.8,623.3 493.1,622.2 495.5,620.8 497.8,619.1 500.2,623.8 502.5,622.4"/>
<g fill="#fff" stroke="#000" stroke-width="1.2" stroke-linejoin="miter"><path d="M76.3 620.9L83.7 620.9L80.0 627.5Z"/><path d="M78.6 621.3L86.0 621.3L82.3 627.9Z"/><path d="M81.0 620.7L88.4 620.7L84.7 627.3Z"/><path d="M83.3 620.7L90.7 620.7L87.0 627.3Z"/><path d="M85.7 619.3L93.1 619.3L89.4 625.9Z"/><path d="M88.0 621.4L95.4 621.4L91.7 628.0Z"/><path d="M90.4 619.4L97.8 619.4L94.1 626.0Z"/><path d="M92.7 619.1L100.1 619.1L96.4 625.7Z"/><path d="M95.1 621.0L102.5 621.0L98.8 627.6Z"/><path d="M97.4 622.6L104.8 622.6L101.1 629.2Z"/><path d="M99.8 623.1L107.2 623.1L103.5 629.7Z"/><path d="M102.1 621.3L109.5 621.3L105.8 627.9Z"/><path d="M104.5 617.7L111.9 617.7L108.2 624.3Z"/><path d="M106.8 614.1L114.2 614.1L110.5 620.7Z"/><path d="M109.2 611.1L116.6 611.1L112.9 617.7Z"/><path d="M111.5 605.2L118.9 605.2L115.2 611.8Z"/><path d="M113.9 605.1L121.3 605.1L117.6 611.7Z"/><path d="M116.2 604.0L123.6 604.0L119.9 610.6Z"/><path d="M118.5 601.6L126.0 601.6L122.2 608.2Z"/><path d="M120.9 600.7L128.3 600.7L124.6 607.3Z"/><path d="M123.2 600.3L130.6 600.3L126.9 606.9Z"/><path d="M125.6 597.4L133.0 597.4L129.3 604.0Z"/><path d="M127.9 592.9L135.3 592.9L131.6 599.5Z"/><path d="M130.3 593.3L137.7 593.3L134.0 599.9Z"/><path d="M132.6 589.2L140.0 589.2L136.3 595.8Z"/><path d="M135.0 590.2L142.4 590.2L138.7 596.8Z"/><path d="M137.3 588.4L144.7 588.4L141.0 595.0Z"/><path d="M139.7 585.8L147.1 585.8L143.4 592.4Z"/><path d="M142.0 585.7L149.4 585.7L145.7 592.3Z"/><path d="M144.4 584.0L151.8 584.0L148.1 590.6Z"/><path d="M146.7 580.8L154.1 580.8L150.4 587.4Z"/><path d="M149.1 580.1L156.5 580.1L152.8 586.7Z"/><path d="M151.4 579.4L158.8 579.4L155.1 586.0Z"/><path d="M153.8 579.1L161.2 579.1L157.5 585.7Z"/><path d="M156.1 577.1L163.5 577.1L159.8 583.7Z"/><path d="M158.5 576.0L165.9 576.0L162.2 582.6Z"/><path d="M160.8 576.6L168.2 576.6L164.5 583.2Z"/><path d="M163.1 575.1L170.5 575.1L166.8 581.7Z"/><path d="M165.5 576.7L172.9 576.7L169.2 583.3Z"/><path d="M167.8 573.2L175.2 573.2L171.5 579.8Z"/><path d="M170.2 573.4L177.6 573.4L173.9 580.0Z"/><path d="M172.5 571.3L179.9 571.3L176.2 577.9Z"/><path d="M174.9 570.9L182.3 570.9L178.6 577.5Z"/><path d="M177.2 571.5L184.6 571.5L180.9 578.1Z"/><path d="M179.6 571.7L187.0 571.7L183.3 578.3Z"/><path d="M181.9 567.7L189.3 567.7L185.6 574.3Z"/><path d="M184.3 570.0L191.7 570.0L188.0 576.6Z"/><path d="M186.6 568.0L194.0 568.0L190.3 574.6Z"/><path d="M189.0 567.7L196.4 567.7L192.7 574.3Z"/><path d="M191.3 567.3L198.7 567.3L195.0 573.9Z"/><path d="M193.7 565.2L201.1 565.2L197.4 571.8Z"/><path d="M196.0 563.8L203.4 563.8L199.7 570.4Z"/><path d="M198.4 566.0L205.8 566.0L202.1 572.6Z"/><path d="M200.7 564.1L208.1 564.1L204.4 570.7Z"/><path d="M203.1 565.0L210.4 565.0L206.8 571.6Z"/><path d="M205.4 563.6L212.8 563.6L209.1 570.2Z"/><path d="M207.7 563.8L215.1 563.8L211.4 570.4Z"/><path d="M210.1 564.7L217.5 564.7L213.8 571.3Z"/><path d="M212.4 564.7L219.8 564.7L216.1 571.3Z"/><path d="M214.8 564.5L222.2 564.5L218.5 571.1Z"/><path d="M217.1 561.9L224.5 561.9L220.8 568.5Z"/><path d="M219.5 563.4L226.9 563.4L223.2 570.0Z"/><path d="M221.8 565.0L229.2 565.0L225.5 571.6Z"/><path d="M224.2 563.2L231.6 563.2L227.9 569.8Z"/><path d="M226.5 563.6L233.9 563.6L230.2 570.2Z"/><path d="M228.9 566.3L236.3 566.3L232.6 572.9Z"/><path d="M231.2 568.2L238.6 568.2L234.9 574.8Z"/><path d="M233.6 568.8L241.0 568.8L237.3 575.4Z"/><path d="M235.9 570.4L243.3 570.4L239.6 577.0Z"/><path d="M238.3 570.6L245.7 570.6L242.0 577.2Z"/><path d="M240.6 572.7L248.0 572.7L244.3 579.3Z"/><path d="M243.0 573.4L250.4 573.4L246.7 580.0Z"/><path d="M245.3 574.4L252.7 574.4L249.0 581.0Z"/><path d="M247.6 574.2L255.0 574.2L251.3 580.8Z"/><path d="M250.0 574.1L257.4 574.1L253.7 580.7Z"/><path d="M252.3 575.7L259.7 575.7L256.0 582.3Z"/><path d="M254.7 578.0L262.1 578.0L258.4 584.6Z"/><path d="M257.0 579.1L264.4 579.1L260.7 585.7Z"/><path d="M259.4 579.8L266.8 579.8L263.1 586.4Z"/><path d="M261.7 581.7L269.1 581.7L265.4 588.3Z"/><path d="M264.1 583.1L271.5 583.1L267.8 589.7Z"/><path d="M266.4 585.5L273.8 585.5L270.1 592.1Z"/><path d="M268.8 586.0L276.2 586.0L272.5 592.6Z"/><path d="M271.1 584.7L278.5 584.7L274.8 591.3Z"/><path d="M273.5 589.2L280.9 589.2L277.2 595.8Z"/><path d="M275.8 588.7L283.2 588.7L279.5 595.3Z"/><path d="M278.2 589.1L285.6 589.1L281.9 595.7Z"/><path d="M280.5 589.1L287.9 589.1L284.2 595.7Z"/><path d="M282.9 592.4L290.3 592.4L286.6 599.0Z"/><path d="M285.2 593.1L292.6 593.1L288.9 599.7Z"/><path d="M287.6 594.1L294.9 594.1L291.2 600.7Z"/><path d="M289.9 594.4L297.3 594.4L293.6 601.0Z"/><path d="M292.2 595.1L299.6 595.1L295.9 601.7Z"/><path d="M294.6 593.9L302.0 593.9L298.3 600.5Z"/><path d="M296.9 594.3L304.3 594.3L300.6 600.9Z"/><path d="M299.3 594.8L306.7 594.8L303.0 601.4Z"/><path d="M301.6 600.4L309.0 600.4L305.3 607.0Z"/><path d="M304.0 601.1L311.4 601.1L307.7 607.7Z"/><path d="M306.3 597.8L313.7 597.8L310.0 604.4Z"/><path d="M308.7 597.5L316.1 597.5L312.4 604.1Z"/><path d="M311.0 600.6L318.4 600.6L314.7 607.2Z"/><path d="M313.4 600.6L320.8 600.6L317.1 607.2Z"/><path d="M315.7 604.7L323.1 604.7L319.4 611.3Z"/><path d="M318.1 603.1L325.5 603.1L321.8 609.7Z"/><path d="M320.4 600.7L327.8 600.7L324.1 607.3Z"/><path d="M322.8 602.0L330.2 602.0L326.5 608.6Z"/><path d="M325.1 602.4L332.5 602.4L328.8 609.0Z"/><path d="M327.5 602.2L334.9 602.2L331.2 608.8Z"/><path d="M329.8 607.0L337.2 607.0L333.5 613.6Z"/><path d="M332.1 608.3L339.5 608.3L335.8 614.9Z"/><path d="M334.5 608.6L341.9 608.6L338.2 615.2Z"/><path d="M336.8 607.0L344.2 607.0L340.5 613.6Z"/><path d="M339.2 606.7L346.6 606.7L342.9 613.3Z"/><path d="M341.5 605.7L348.9 605.7L345.2 612.3Z"/><path d="M343.9 607.5L351.3 607.5L347.6 614.1Z"/><path d="M346.2 608.5L353.6 608.5L349.9 615.1Z"/><path d="M348.6 608.4L356.0 608.4L352.3 615.0Z"/><path d="M350.9 610.7L358.3 610.7L354.6 617.3Z"/><path d="M353.3 610.7L360.7 610.7L357.0 617.3Z"/><path d="M355.6 614.2L363.0 614.2L359.3 620.8Z"/><path d="M358.0 610.5L365.4 610.5L361.7 617.1Z"/><path d="M360.3 614.0L367.7 614.0L364.0 620.6Z"/><path d="M362.7 610.4L370.1 610.4L366.4 617.0Z"/><path d="M365.0 612.3L372.4 612.3L368.7 618.9Z"/><path d="M367.4 614.6L374.8 614.6L371.1 621.2Z"/><path d="M369.7 615.9L377.1 615.9L373.4 622.5Z"/><path d="M372.1 615.5L379.4 615.5L375.8 622.1Z"/><path d="M374.4 613.7L381.8 613.7L378.1 620.3Z"/><path d="M376.7 613.6L384.1 613.6L380.4 620.2Z"/><path d="M379.1 617.3L386.5 617.3L382.8 623.9Z"/><path d="M381.4 617.9L388.8 617.9L385.1 624.5Z"/><path d="M383.8 615.6L391.2 615.6L387.5 622.2Z"/><path d="M386.1 615.6L393.5 615.6L389.8 622.2Z"/><path d="M388.5 617.1L395.9 617.1L392.2 623.7Z"/><path d="M390.8 618.4L398.2 618.4L394.5 625.0Z"/><path d="M393.2 616.5L400.6 616.5L396.9 623.1Z"/><path d="M395.5 620.1L402.9 620.1L399.2 626.7Z"/><path d="M397.9 618.5L405.3 618.5L401.6 625.1Z"/><path d="M400.2 617.7L407.6 617.7L403.9 624.3Z"/><path d="M402.6 615.0L410.0 615.0L406.3 621.6Z"/><path d="M404.9 616.9L412.3 616.9L408.6 623.5Z"/><path d="M407.3 615.7L414.7 615.7L411.0 622.3Z"/><path d="M409.6 618.2L417.0 618.2L413.3 624.8Z"/><path d="M412.0 619.7L419.4 619.7L415.7 626.3Z"/><path d="M414.3 619.8L421.7 619.8L418.0 626.4Z"/><path d="M416.6 615.8L424.0 615.8L420.3 622.4Z"/><path d="M419.0 617.4L426.4 617.4L422.7 624.0Z"/><path d="M421.3 619.8L428.7 619.8L425.0 626.4Z"/><path d="M423.7 621.6L431.1 621.6L427.4 628.2Z"/><path d="M426.0 619.0L433.4 619.0L429.7 625.6Z"/><path d="M428.4 618.1L435.8 618.1L432.1 624.7Z"/><path d="M430.7 619.6L438.1 619.6L434.4 626.2Z"/><path d="M433.1 620.6L440.5 620.6L436.8 627.2Z"/><path d="M435.4 618.2L442.8 618.2L439.1 624.8Z"/><path d="M437.8 616.7L445.2 616.7L441.5 623.3Z"/><path d="M440.1 620.8L447.5 620.8L443.8 627.4Z"/><path d="M442.5 621.9L449.9 621.9L446.2 628.5Z"/><path d="M444.8 620.2L452.2 620.2L448.5 626.8Z"/><path d="M447.2 619.7L454.6 619.7L450.9 626.3Z"/><path d="M449.5 618.2L456.9 618.2L453.2 624.8Z"/><path d="M451.9 621.0L459.3 621.0L455.6 627.6Z"/><path d="M454.2 617.6L461.6 617.6L457.9 624.2Z"/><path d="M456.6 617.9L463.9 617.9L460.2 624.5Z"/><path d="M458.9 619.3L466.3 619.3L462.6 625.9Z"/><path d="M461.2 621.0L468.6 621.0L464.9 627.6Z"/><path d="M463.6 616.6L471.0 616.6L467.3 623.2Z"/><path d="M465.9 620.5L473.3 620.5L469.6 627.1Z"/><path d="M468.3 617.5L475.7 617.5L472.0 624.1Z"/><path d="M470.6 621.0L478.0 621.0L474.3 627.6Z"/><path d="M473.0 621.0L480.4 621.0L476.7 627.6Z"/><path d="M475.3 617.9L482.7 617.9L479.0 624.5Z"/><path d="M477.7 620.6L485.1 620.6L481.4 627.2Z"/><path d="M480.0 616.8L487.4 616.8L483.7 623.4Z"/><path d="M482.4 619.5L489.8 619.5L486.1 626.1Z"/><path d="M484.7 621.3L492.1 621.3L488.4 627.9Z"/><path d="M487.1 621.1L494.5 621.1L490.8 627.7Z"/><path d="M489.4 620.0L496.8 620.0L493.1 626.6Z"/><path d="M491.8 618.6L499.2 618.6L495.5 625.2Z"/><path d="M494.1 616.9L501.5 616.9L497.8 623.5Z"/><path d="M496.5 621.6L503.9 621.6L500.2 628.2Z"/><path d="M498.8 620.2L506.2 620.2L502.5 626.8Z"/></g>
</g>
<rect x="80.0" y="354.3" width="422.5" height="268.7" fill="none" stroke="#000" stroke-width="1.5"/>
<line x1="75.20" y1="623.00" x2="80.00" y2="623.00" stroke="#000" stroke-width="1.5"/>
<text x="69.6" y="627.8" font-size="12" text-anchor="end" >0</text>
<line x1="75.20" y1="581.71" x2="80.00" y2="581.71" stroke="#000" stroke-width="1.5"/>
<text x="69.6" y="586.5083333333333" font-size="12" text-anchor="end" >10</text>
<line x1="75.20" y1="540.42" x2="80.00" y2="540.42" stroke="#000" stroke-width="1.5"/>
<text x="69.6" y="545.2166666666666" font-size="12" text-anchor="end" >20</text>
<line x1="75.20" y1="499.12" x2="80.00" y2="499.12" stroke="#000" stroke-width="1.5"/>
<text x="69.6" y="503.925" font-size="12" text-anchor="end" >30</text>
<line x1="75.20" y1="457.83" x2="80.00" y2="457.83" stroke="#000" stroke-width="1.5"/>
<text x="69.6" y="462.6333333333334" font-size="12" text-anchor="end" >40</text>
<line x1="75.20" y1="416.54" x2="80.00" y2="416.54" stroke="#000" stroke-width="1.5"/>
<text x="69.6" y="421.3416666666667" font-size="12" text-anchor="end" >50</text>
<line x1="75.20" y1="375.25" x2="80.00" y2="375.25" stroke="#000" stroke-width="1.5"/>
<text x="69.6" y="380.05" font-size="12" text-anchor="end" >60</text>
<line x1="80.00" y1="623.00" x2="80.00" y2="627.50" stroke="#000" stroke-width="1.5"/>
<text x="80.0" y="643.8" font-size="12" text-anchor="middle" >0</text>
<line x1="150.42" y1="623.00" x2="150.42" y2="627.50" stroke="#000" stroke-width="1.5"/>
<text x="150.42" y="643.8" font-size="12" text-anchor="middle" >10</text>
<line x1="220.83" y1="623.00" x2="220.83" y2="627.50" stroke="#000" stroke-width="1.5"/>
<text x="220.83" y="643.8" font-size="12" text-anchor="middle" >20</text>
<line x1="291.25" y1="623.00" x2="291.25" y2="627.50" stroke="#000" stroke-width="1.5"/>
<text x="291.25" y="643.8" font-size="12" text-anchor="middle" >30</text>
<line x1="361.67" y1="623.00" x2="361.67" y2="627.50" stroke="#000" stroke-width="1.5"/>
<text x="361.67" y="643.8" font-size="12" text-anchor="middle" >40</text>
<line x1="432.08" y1="623.00" x2="432.08" y2="627.50" stroke="#000" stroke-width="1.5"/>
<text x="432.08" y="643.8" font-size="12" text-anchor="middle" >50</text>
<line x1="502.50" y1="623.00" x2="502.50" y2="627.50" stroke="#000" stroke-width="1.5"/>
<text x="502.5" y="643.8" font-size="12" text-anchor="middle" >60</text>
<text x="47.4" y="489.8" font-size="15.5" text-anchor="middle" textLength="92.3" lengthAdjust="spacingAndGlyphs" transform="rotate(-90 47.4 489.8)" >Thrombin (nM)</text>
<text x="291.3" y="665" font-size="15.5" text-anchor="middle" textLength="65" lengthAdjust="spacingAndGlyphs" >Time (min)</text>
<line x1="325.80" y1="375.70" x2="357.50" y2="375.70" stroke="#000" stroke-width="1.2"/>
<line x1="325.80" y1="391.50" x2="357.50" y2="391.50" stroke="#000" stroke-width="1.2"/>
<line x1="325.80" y1="407.30" x2="357.50" y2="407.30" stroke="#000" stroke-width="1.2"/>
<line x1="325.80" y1="422.80" x2="357.50" y2="422.80" stroke="#000" stroke-width="1.2"/>
<ellipse cx="340.9" cy="375.7" rx="6.2" ry="5.7" fill="#000"/>
<path d="M335.09999999999997 394.7L346.7 394.7L340.9 384.3Z" fill="#808080" stroke="#000" stroke-width="1.1"/>
<rect x="336.29999999999995" y="402.7" width="9.2" height="9.2" fill="#555" stroke="#000" stroke-width="1.1"/>
<path d="M335.09999999999997 421.0L346.7 421.0L340.9 429.6Z" fill="#fff" stroke="#000" stroke-width="1.1"/>
<text x="365.6" y="379.9" font-size="12" text-anchor="start" >fVIII</text>
<text x="365.6" y="395.7" font-size="12" text-anchor="start" >fVIII + 2A9</text>
<text x="365.6" y="411.5" font-size="12" text-anchor="start" >fVIII + B136</text>
<text x="365.6" y="427.0" font-size="12" text-anchor="start" >fVIII deficient plasma</text>
<text x="9.5" y="708.9" font-size="19.6" text-anchor="start" font-weight="bold" textLength="13.3" lengthAdjust="spacingAndGlyphs" style="stroke-width:0.2px">C</text>
<rect x="112.15" y="766.30" width="7.40" height="208.50" fill="#000"/>
<rect x="121.40" y="766.30" width="7.40" height="208.50" fill="#c0c0c0"/>
<rect x="130.65" y="766.30" width="7.40" height="208.50" fill="#808080"/>
<rect x="157.79" y="795.49" width="7.40" height="179.31" fill="#000"/>
<rect x="167.04" y="814.25" width="7.40" height="160.54" fill="#c0c0c0"/>
<rect x="176.29" y="789.44" width="7.40" height="185.36" fill="#808080"/>
<line x1="161.49" y1="795.49" x2="161.49" y2="775.89" stroke="#000" stroke-width="1.5"/>
<line x1="157.24" y1="775.89" x2="165.74" y2="775.89" stroke="#000" stroke-width="1.6"/>
<line x1="170.74" y1="814.25" x2="170.74" y2="792.57" stroke="#000" stroke-width="1.5"/>
<line x1="166.49" y1="792.57" x2="174.99" y2="792.57" stroke="#000" stroke-width="1.6"/>
<line x1="179.99" y1="789.44" x2="179.99" y2="780.89" stroke="#000" stroke-width="1.5"/>
<line x1="175.74" y1="780.89" x2="184.24" y2="780.89" stroke="#000" stroke-width="1.6"/>
<rect x="203.43" y="834.27" width="7.40" height="140.53" fill="#000"/>
<rect x="212.68" y="869.51" width="7.40" height="105.29" fill="#c0c0c0"/>
<rect x="221.93" y="775.06" width="7.40" height="199.74" fill="#808080"/>
<line x1="207.13" y1="834.27" x2="207.13" y2="829.27" stroke="#000" stroke-width="1.5"/>
<line x1="202.88" y1="829.27" x2="211.38" y2="829.27" stroke="#000" stroke-width="1.6"/>
<line x1="216.38" y1="869.51" x2="216.38" y2="861.17" stroke="#000" stroke-width="1.5"/>
<line x1="212.13" y1="861.17" x2="220.63" y2="861.17" stroke="#000" stroke-width="1.6"/>
<line x1="225.63" y1="775.06" x2="225.63" y2="762.13" stroke="#000" stroke-width="1.5"/>
<line x1="221.38" y1="762.13" x2="229.88" y2="762.13" stroke="#000" stroke-width="1.6"/>
<rect x="249.07" y="825.51" width="7.40" height="149.29" fill="#000"/>
<rect x="258.32" y="856.16" width="7.40" height="118.64" fill="#c0c0c0"/>
<rect x="267.57" y="769.43" width="7.40" height="205.37" fill="#808080"/>
<line x1="252.77" y1="825.51" x2="252.77" y2="812.38" stroke="#000" stroke-width="1.5"/>
<line x1="248.52" y1="812.38" x2="257.02" y2="812.38" stroke="#000" stroke-width="1.6"/>
<line x1="262.02" y1="856.16" x2="262.02" y2="838.02" stroke="#000" stroke-width="1.5"/>
<line x1="257.77" y1="838.02" x2="266.27" y2="838.02" stroke="#000" stroke-width="1.6"/>
<line x1="271.27" y1="769.43" x2="271.27" y2="757.54" stroke="#000" stroke-width="1.5"/>
<line x1="267.02" y1="757.54" x2="275.52" y2="757.54" stroke="#000" stroke-width="1.6"/>
<rect x="294.71" y="874.09" width="7.40" height="100.71" fill="#000"/>
<rect x="303.96" y="912.46" width="7.40" height="62.34" fill="#c0c0c0"/>
<rect x="313.21" y="769.43" width="7.40" height="205.37" fill="#808080"/>
<line x1="298.41" y1="874.09" x2="298.41" y2="857.00" stroke="#000" stroke-width="1.5"/>
<line x1="294.16" y1="857.00" x2="302.66" y2="857.00" stroke="#000" stroke-width="1.6"/>
<line x1="307.66" y1="912.46" x2="307.66" y2="894.32" stroke="#000" stroke-width="1.5"/>
<line x1="303.41" y1="894.32" x2="311.91" y2="894.32" stroke="#000" stroke-width="1.6"/>
<line x1="316.91" y1="769.43" x2="316.91" y2="748.79" stroke="#000" stroke-width="1.5"/>
<line x1="312.66" y1="748.79" x2="321.16" y2="748.79" stroke="#000" stroke-width="1.6"/>
<rect x="340.35" y="909.12" width="7.40" height="65.68" fill="#000"/>
<rect x="349.60" y="937.90" width="7.40" height="36.90" fill="#c0c0c0"/>
<rect x="358.85" y="787.57" width="7.40" height="187.23" fill="#808080"/>
<line x1="344.05" y1="909.12" x2="344.05" y2="906.20" stroke="#000" stroke-width="1.5"/>
<line x1="339.80" y1="906.20" x2="348.30" y2="906.20" stroke="#000" stroke-width="1.6"/>
<line x1="353.30" y1="937.90" x2="353.30" y2="935.18" stroke="#000" stroke-width="1.5"/>
<line x1="349.05" y1="935.18" x2="357.55" y2="935.18" stroke="#000" stroke-width="1.6"/>
<line x1="362.55" y1="787.57" x2="362.55" y2="782.56" stroke="#000" stroke-width="1.5"/>
<line x1="358.30" y1="782.56" x2="366.80" y2="782.56" stroke="#000" stroke-width="1.6"/>
<rect x="385.99" y="894.74" width="7.40" height="80.06" fill="#000"/>
<rect x="395.24" y="929.35" width="7.40" height="45.45" fill="#c0c0c0"/>
<rect x="404.49" y="795.49" width="7.40" height="179.31" fill="#808080"/>
<line x1="389.69" y1="894.74" x2="389.69" y2="888.69" stroke="#000" stroke-width="1.5"/>
<line x1="385.44" y1="888.69" x2="393.94" y2="888.69" stroke="#000" stroke-width="1.6"/>
<line x1="398.94" y1="929.35" x2="398.94" y2="923.09" stroke="#000" stroke-width="1.5"/>
<line x1="394.69" y1="923.09" x2="403.19" y2="923.09" stroke="#000" stroke-width="1.6"/>
<line x1="408.19" y1="795.49" x2="408.19" y2="786.94" stroke="#000" stroke-width="1.5"/>
<line x1="403.94" y1="786.94" x2="412.44" y2="786.94" stroke="#000" stroke-width="1.6"/>
<rect x="431.63" y="900.57" width="7.40" height="74.23" fill="#000"/>
<rect x="440.88" y="931.01" width="7.40" height="43.78" fill="#c0c0c0"/>
<rect x="450.13" y="816.13" width="7.40" height="158.67" fill="#808080"/>
<line x1="435.33" y1="900.57" x2="435.33" y2="891.40" stroke="#000" stroke-width="1.5"/>
<line x1="431.08" y1="891.40" x2="439.58" y2="891.40" stroke="#000" stroke-width="1.6"/>
<line x1="444.58" y1="931.01" x2="444.58" y2="923.93" stroke="#000" stroke-width="1.5"/>
<line x1="440.33" y1="923.93" x2="448.83" y2="923.93" stroke="#000" stroke-width="1.6"/>
<line x1="453.83" y1="816.13" x2="453.83" y2="801.95" stroke="#000" stroke-width="1.5"/>
<line x1="449.58" y1="801.95" x2="458.08" y2="801.95" stroke="#000" stroke-width="1.6"/>
<rect x="80.0" y="724.8" width="410.0" height="250.0" fill="none" stroke="#000" stroke-width="1.5"/>
<line x1="75.20" y1="974.80" x2="80.00" y2="974.80" stroke="#000" stroke-width="1.5"/>
<text x="69.6" y="979.5999999999999" font-size="12" text-anchor="end" >0</text>
<line x1="75.20" y1="933.10" x2="80.00" y2="933.10" stroke="#000" stroke-width="1.5"/>
<text x="69.6" y="937.8999999999999" font-size="12" text-anchor="end" >20</text>
<line x1="75.20" y1="891.40" x2="80.00" y2="891.40" stroke="#000" stroke-width="1.5"/>
<text x="69.6" y="896.1999999999999" font-size="12" text-anchor="end" >40</text>
<line x1="75.20" y1="849.70" x2="80.00" y2="849.70" stroke="#000" stroke-width="1.5"/>
<text x="69.6" y="854.4999999999999" font-size="12" text-anchor="end" >60</text>
<line x1="75.20" y1="808.00" x2="80.00" y2="808.00" stroke="#000" stroke-width="1.5"/>
<text x="69.6" y="812.8" font-size="12" text-anchor="end" >80</text>
<line x1="75.20" y1="766.30" x2="80.00" y2="766.30" stroke="#000" stroke-width="1.5"/>
<text x="69.6" y="771.0999999999999" font-size="12" text-anchor="end" >100</text>
<line x1="75.20" y1="724.60" x2="80.00" y2="724.60" stroke="#000" stroke-width="1.5"/>
<text x="69.6" y="729.3999999999999" font-size="12" text-anchor="end" >120</text>
<line x1="125.10" y1="974.80" x2="125.10" y2="979.30" stroke="#000" stroke-width="1.5"/>
<text x="125.3" y="995.2" font-size="12" text-anchor="middle" >fVIII</text>
<line x1="170.74" y1="974.80" x2="170.74" y2="979.30" stroke="#000" stroke-width="1.5"/>
<text x="170.94" y="995.2" font-size="12" text-anchor="middle" >2A9</text>
<line x1="216.38" y1="974.80" x2="216.38" y2="979.30" stroke="#000" stroke-width="1.5"/>
<text x="216.58" y="995.2" font-size="12" text-anchor="middle" >F156</text>
<line x1="262.02" y1="974.80" x2="262.02" y2="979.30" stroke="#000" stroke-width="1.5"/>
<text x="262.22" y="995.2" font-size="12" text-anchor="middle" >I84</text>
<line x1="307.66" y1="974.80" x2="307.66" y2="979.30" stroke="#000" stroke-width="1.5"/>
<text x="307.86" y="995.2" font-size="12" text-anchor="middle" >M6143</text>
<line x1="353.30" y1="974.80" x2="353.30" y2="979.30" stroke="#000" stroke-width="1.5"/>
<text x="353.5" y="995.2" font-size="12" text-anchor="middle" >KM33</text>
<line x1="398.94" y1="974.80" x2="398.94" y2="979.30" stroke="#000" stroke-width="1.5"/>
<text x="399.14" y="995.2" font-size="12" text-anchor="middle" >B136</text>
<line x1="444.58" y1="974.80" x2="444.58" y2="979.30" stroke="#000" stroke-width="1.5"/>
<text x="443.08" y="995.2" font-size="12" text-anchor="middle" >fVIII def.</text>
<text x="40.6" y="855.3" font-size="15.5" text-anchor="middle" textLength="103.5" lengthAdjust="spacingAndGlyphs" transform="rotate(-90 40.6 855.3)" >% of fVIII control</text>
<rect x="352.50" y="731.30" width="32.00" height="7.40" fill="#000"/>
<text x="391.8" y="738.8" font-size="12" text-anchor="start" >ETP</text>
<rect x="352.50" y="746.30" width="32.00" height="7.40" fill="#c0c0c0"/>
<text x="391.8" y="753.5999999999999" font-size="12" text-anchor="start" >Peak Thrombin</text>
<rect x="352.50" y="761.30" width="32.00" height="7.40" fill="#808080"/>
<text x="391.8" y="768.4" font-size="12" text-anchor="start" >Lag time</text>
</svg>
<svg id="frame" width="520" height="1007" viewBox="0 0 520 1007">
<path d="M0 0H520V1007H0Z M1.15 1.1V1005.75H518.65V1.1Z" fill="#000" fill-rule="evenodd"/>
</svg>
</body></html>
